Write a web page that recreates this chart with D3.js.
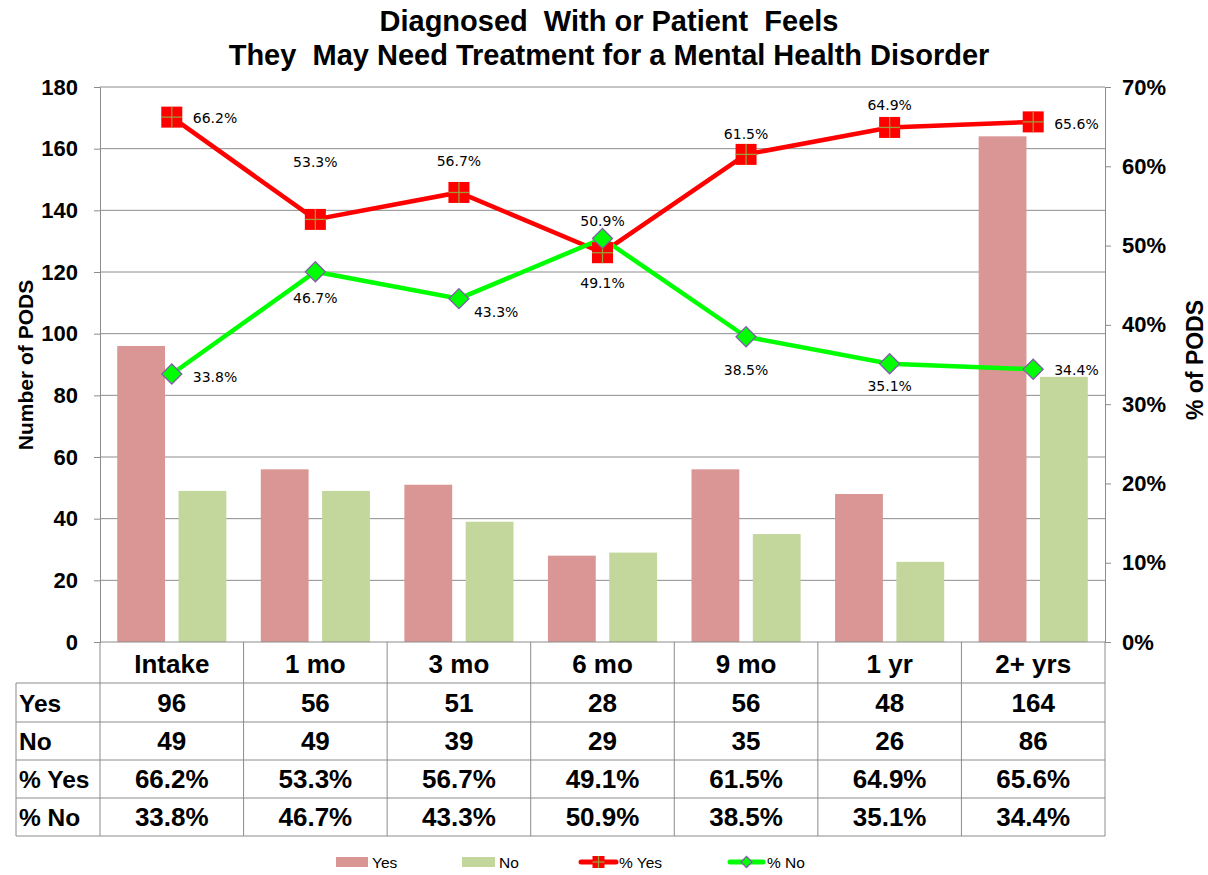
<!DOCTYPE html>
<html><head><meta charset="utf-8">
<script src="https://cdn.jsdelivr.net/npm/d3@7/dist/d3.min.js"></script>
<style>body{margin:0;background:#fff}svg{display:block}text{font-family:"Liberation Sans",Arial,sans-serif}</style>
</head><body><svg id="c" width="1208" height="875"></svg>
<script>
const categories = ["Intake","1 mo","3 mo","6 mo","9 mo","1 yr","2+ yrs"];
const yesCounts = [96,56,51,28,56,48,164];
const noCounts = [49,49,39,29,35,26,86];
const pctYes = [66.2,53.3,56.7,49.1,61.5,64.9,65.6];
const pctNo = [33.8,46.7,43.3,50.9,38.5,35.1,34.4];
const leftTicks = [0,20,40,60,80,100,120,140,160,180];
const rightTicks = [0,10,20,30,40,50,60,70];

// label placement (layout config): [dx, dy, anchor] relative to marker centre
const yesLabelOff = [[21,6,"start"],[0,-52,"middle"],[0,-26,"middle"],[0,35,"middle"],[0,-15,"middle"],[0,-17,"middle"],[21,7,"start"]];
const noLabelOff = [[21,8,"start"],[0,31,"middle"],[15,18,"start"],[0,-12,"middle"],[0,38,"middle"],[0,27,"middle"],[21,6,"start"]];

const svg = d3.select("#c");
const L=100,R=1105,T=87,B=642;
const colYes="#D99694", colNo="#C3D69B";
const x0 = d3.scaleBand().domain(categories).range([L,R]);
const bw = x0.bandwidth();
const x1 = d3.scaleBand().domain(["Yes","No"]).range([bw*0.12,bw*0.88]).paddingInner(0.22);
const yL = d3.scaleLinear().domain([0,180]).range([B,T]);
const yR = d3.scaleLinear().domain([0,70]).range([B,T]);

// title
const title = svg.append("text").attr("text-anchor","middle").attr("font-weight","bold").attr("font-size",29).style("white-space","pre");
title.append("tspan").attr("x",609).attr("y",31).text("Diagnosed  With or Patient  Feels");
title.append("tspan").attr("x",609).attr("y",65).text("They  May Need Treatment for a Mental Health Disorder");

// gridlines
svg.append("g").selectAll("line").data(leftTicks.filter(d=>d>0)).join("line")
 .attr("x1",L).attr("x2",R).attr("y1",d=>yL(d)).attr("y2",d=>yL(d)).attr("stroke","#8c8c8c").attr("stroke-width",1);

// axes
const gl = svg.append("g").attr("transform",`translate(${L},0)`).call(d3.axisLeft(yL).tickValues(leftTicks).tickSize(6).tickPadding(16));
const gr = svg.append("g").attr("transform",`translate(${R},0)`).call(d3.axisRight(yR).tickValues(rightTicks).tickSize(6).tickPadding(11).tickFormat(d=>d+"%"));
[gl,gr].forEach(g=>{g.select(".domain").attr("stroke","#8c8c8c");g.selectAll(".tick line").attr("stroke","#8c8c8c");
 g.selectAll(".tick text").attr("font-size",22).attr("font-weight","bold").attr("fill","#000").attr("font-family","Liberation Sans,Arial,sans-serif");});

svg.append("text").attr("transform","translate(33,365) rotate(-90)").attr("text-anchor","middle").attr("font-weight","bold").attr("font-size",21).text("Number of PODS");
svg.append("text").attr("transform","translate(1203,360) rotate(-90)").attr("text-anchor","middle").attr("font-weight","bold").attr("font-size",23).text("% of PODS");

// bars
const bars = svg.append("g");
categories.forEach((c,i)=>{
  bars.append("rect").attr("x",x0(c)+x1("Yes")).attr("width",x1.bandwidth()).attr("y",yL(yesCounts[i])).attr("height",B-yL(yesCounts[i])).attr("fill",colYes);
  bars.append("rect").attr("x",x0(c)+x1("No")).attr("width",x1.bandwidth()).attr("y",yL(noCounts[i])).attr("height",B-yL(noCounts[i])).attr("fill",colNo);
});

const cx = c=>x0(c)+bw/2;
const line = d3.line().x((d,i)=>cx(categories[i])).y(d=>yR(d));
svg.append("path").attr("d",line(pctYes)).attr("fill","none").attr("stroke","#FF0000").attr("stroke-width",4.5);
svg.append("path").attr("d",line(pctNo)).attr("fill","none").attr("stroke","#00FF00").attr("stroke-width",4.5);

function squareMarker(g,x,y,s){
  g.append("rect").attr("x",x-s/2).attr("y",y-s/2).attr("width",s).attr("height",s).attr("fill","#FF0000");
  g.append("line").attr("x1",x-s/2).attr("x2",x+s/2).attr("y1",y).attr("y2",y).attr("stroke","#9C9B3A").attr("stroke-width",1.3);
  g.append("line").attr("x1",x).attr("x2",x).attr("y1",y-s/2).attr("y2",y+s/2).attr("stroke","#9C9B3A").attr("stroke-width",1.3);
}
function diamondMarker(g,x,y,s){
  g.append("path").attr("d",`M${x},${y-s/2}L${x+s/2},${y}L${x},${y+s/2}L${x-s/2},${y}Z`).attr("fill","#00FF00").attr("stroke","#7F60A8").attr("stroke-width",1.3);
}
const mk = svg.append("g");
pctYes.forEach((v,i)=>squareMarker(mk,cx(categories[i]),yR(v),21));
pctNo.forEach((v,i)=>diamondMarker(mk,cx(categories[i]),yR(v),20));

// data labels
const lab = svg.append("g").attr("font-size",14).attr("fill","#000");
function addLabel(x,y,off,t){
  lab.append("text").attr("x",x+off[0]).attr("y",y+off[1]).attr("text-anchor",off[2]).style("font-family","DejaVu Sans,sans-serif").text(t);
}
pctYes.forEach((v,i)=>addLabel(cx(categories[i]),yR(v),yesLabelOff[i],v.toFixed(1)+"%"));
pctNo.forEach((v,i)=>addLabel(cx(categories[i]),yR(v),noLabelOff[i],v.toFixed(1)+"%"));

// data table
const rowLabels = ["Yes","No","% Yes","% No"];
const rowData = [yesCounts.map(String), noCounts.map(String), pctYes.map(v=>v.toFixed(1)+"%"), pctNo.map(v=>v.toFixed(1)+"%")];
const rowTops = [683,722,760,798,836];
const tbl = svg.append("g");
const gridC = "#8c8c8c";
tbl.append("line").attr("x1",L).attr("x2",R).attr("y1",B).attr("y2",B).attr("stroke",gridC);
categories.forEach((c,i)=>{
  tbl.append("text").attr("x",cx(c)).attr("y",673).attr("text-anchor","middle").attr("font-weight","bold").attr("font-size",26).text(c);
});
rowTops.forEach(y=>tbl.append("line").attr("x1",16).attr("x2",R).attr("y1",y).attr("y2",y).attr("stroke",gridC));
tbl.append("line").attr("x1",16).attr("x2",16).attr("y1",683).attr("y2",836).attr("stroke",gridC);
categories.forEach(c=>tbl.append("line").attr("x1",x0(c)).attr("x2",x0(c)).attr("y1",B).attr("y2",836).attr("stroke",gridC));
tbl.append("line").attr("x1",R).attr("x2",R).attr("y1",B).attr("y2",836).attr("stroke",gridC);
rowLabels.forEach((r,j)=>{
  const ym=(rowTops[j]+rowTops[j+1])/2+9;
  tbl.append("text").attr("x",19).attr("y",ym).attr("font-weight","bold").attr("font-size",24.5).text(r);
  rowData[j].forEach((t,i)=>tbl.append("text").attr("x",cx(categories[i])).attr("y",ym).attr("text-anchor","middle").attr("font-weight","bold").attr("font-size",26).text(t));
});

// legend
const lg = svg.append("g").attr("font-size",15.5);
lg.append("rect").attr("x",336).attr("y",857).attr("width",32).attr("height",10).attr("fill",colYes);
lg.append("text").attr("x",372).attr("y",868).text("Yes");
lg.append("rect").attr("x",462).attr("y",857).attr("width",33).attr("height",10).attr("fill",colNo);
lg.append("text").attr("x",499).attr("y",868).text("No");
lg.append("line").attr("x1",581).attr("x2",616).attr("y1",862).attr("y2",862).attr("stroke","#FF0000").attr("stroke-width",5).attr("stroke-linecap","round");
squareMarker(lg,598.5,862,12);
lg.append("text").attr("x",619).attr("y",868).text("% Yes");
lg.append("line").attr("x1",730).attr("x2",763).attr("y1",862).attr("y2",862).attr("stroke","#00FF00").attr("stroke-width",5).attr("stroke-linecap","round");
diamondMarker(lg,746.5,862,11);
lg.append("text").attr("x",767).attr("y",868).text("% No");
</script></body></html>
